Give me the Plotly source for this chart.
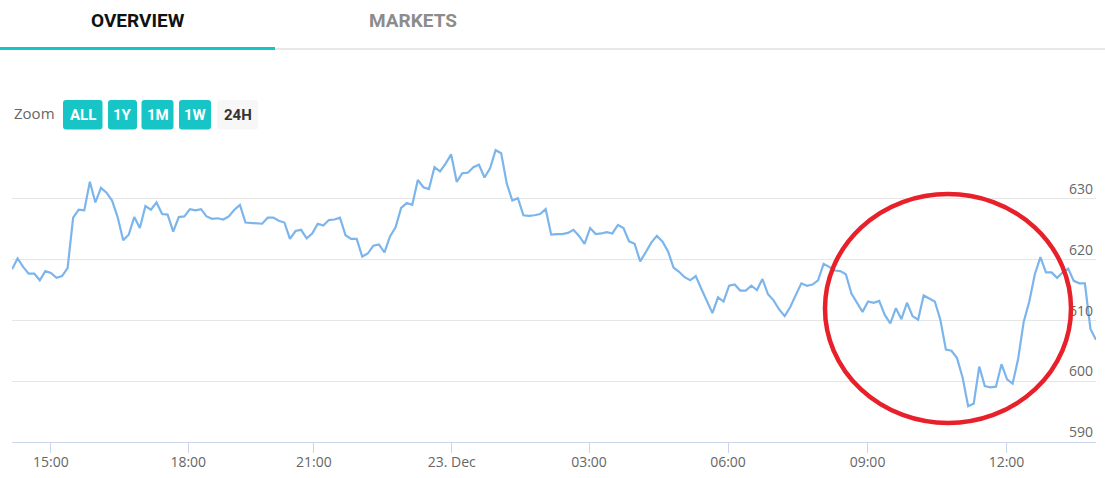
import plotly.graph_objects as go

# ---------------- data ----------------
prices_part1 = [
    618.4, 620.2, 618.8, 617.7, 617.7, 616.6, 618.1, 617.8, 617.0, 617.3,
    618.6, 626.9, 628.2, 628.1, 632.8, 629.4, 631.8, 631.0, 629.7, 627.0,
    623.2, 624.1, 627.0, 625.2, 628.8, 628.2, 629.4, 627.5, 627.4, 624.6,
    627.0, 627.1, 628.3, 628.1, 628.3, 627.1, 626.7, 626.8, 626.6, 627.1,
    628.2, 629.0, 626.1, 626.0, 626.0, 625.9, 626.9, 626.9, 626.4, 626.1,
    623.4, 624.7, 624.9, 623.5, 624.3, 625.9, 625.6, 626.5, 626.6, 626.9,
    624.0, 623.4, 623.4, 620.5, 621.0,
]
prices_part2 = [
    622.3, 622.5, 621.2, 623.8, 625.3, 628.5, 629.3, 629.0, 633.1, 631.9,
    631.6, 635.2, 634.5, 635.8, 637.3, 632.8, 634.2, 634.3, 635.2, 635.6,
    633.5, 635.0, 638.0, 637.5, 632.5, 629.7, 630.1, 627.3, 627.2, 627.3,
    627.5, 628.3, 624.1, 624.2, 624.2, 624.4, 624.9, 623.9, 622.6, 625.2,
    624.2, 624.3, 624.5, 624.3, 625.7, 625.2, 623.0, 622.6, 619.7, 621.2,
    622.8, 623.9, 623.0, 621.4, 618.7, 618.0, 617.1, 616.6, 617.3, 615.2,
    613.2, 611.2, 613.8, 613.1, 615.7, 615.9,
]
prices_part3 = [
    614.9, 614.9, 615.7, 615.0, 616.8, 614.3, 613.3, 611.8, 610.7, 612.2,
    614.2, 616.1, 615.7, 615.9, 616.6, 619.3, 618.8, 618.2, 618.1, 617.6,
    614.4, 612.8, 611.4, 613.1, 612.9, 613.2, 610.9, 609.5, 612.0, 610.2,
    612.9, 610.7, 610.1, 614.1, 613.6, 613.1, 610.1, 605.2, 605.0, 603.8,
    600.6, 595.9, 596.3, 602.4, 599.2, 599.0, 599.1, 602.8, 600.3, 599.6,
    603.7, 609.8, 613.1, 617.6, 620.4, 617.9, 617.9, 617.0, 617.9, 618.5,
    616.5, 616.1, 616.1, 608.6, 606.8,
]
prices = prices_part1 + prices_part2 + prices_part3
point_index = list(range(len(prices)))  # ordinal (Highstock-style) x axis

x_tick_index = [7.0, 31.7, 54.3, 79.1, 103.8, 128.8, 153.9, 178.9]
x_tick_labels = ["15:00", "18:00", "21:00", "23. Dec", "03:00", "06:00", "09:00", "12:00"]
y_tick_values = [590, 600, 610, 620, 630, 640]
y_tick_labels = ["590", "600", "610", "620", "630", ""]

tab_labels = ["OVERVIEW", "MARKETS"]
zoom_buttons = ["ALL", "1Y", "1M", "1W", "24H"]

# ---------------- layout helpers ----------------
W, H = 1105, 478
ML, MR, MT, MB = 12, 9, 138, 36
PW = W - ML - MR
PH = H - MT - MB


def px(x):
    return (x - ML) / PW


def py(y):
    return (H - MB - y) / PH


def rrect_path(x0, y0, x1, y1, r):
    a, b, c, d = px(x0), px(x1), py(y0), py(y1)  # c top, d bottom
    rx, ry = r / PW, r / PH
    return (f"M{a+rx},{c} L{b-rx},{c} Q{b},{c} {b},{c-ry} "
            f"L{b},{d+ry} Q{b},{d} {b-rx},{d} L{a+rx},{d} "
            f"Q{a},{d} {a},{d+ry} L{a},{c-ry} Q{a},{c} {a+rx},{c} Z")


TEAL = "#17c4c6"
LINE = "#7cb5ec"

fig = go.Figure()
fig.add_trace(go.Scatter(
    x=point_index, y=prices, mode="lines",
    line=dict(color=LINE, width=2.2), hoverinfo="skip", showlegend=False,
))

shapes = []
# tabs underline
shapes.append(dict(type="rect", xref="paper", yref="paper", x0=px(0), x1=px(275),
                   y0=py(50), y1=py(47), fillcolor=TEAL, line=dict(width=0)))
shapes.append(dict(type="rect", xref="paper", yref="paper", x0=px(275), x1=px(1105),
                   y0=py(50), y1=py(48), fillcolor="#e8e8e8", line=dict(width=0)))
# zoom buttons
btn_boxes = [(63, 102.5), (108, 137), (141.5, 173.5), (179, 211), (217, 258)]
annotations = []
for label, (bx0, bx1) in zip(zoom_buttons, btn_boxes):
    active = label == "24H"
    shapes.append(dict(type="path", xref="paper", yref="paper",
                       path=rrect_path(bx0, 100, bx1, 129.5, 3),
                       fillcolor="#f7f7f7" if active else TEAL, line=dict(width=0)))
    annotations.append(dict(xref="paper", yref="paper", x=px((bx0 + bx1) / 2), y=py(115),
                            text=f"<b>{label}</b>", showarrow=False,
                            xanchor="center", yanchor="middle",
                            font=dict(family="Roboto", size=15,
                                      color="#333333" if active else "#ffffff")))
annotations.append(dict(xref="paper", yref="paper", x=px(12), y=py(113), text="Zoom",
                        showarrow=False, xanchor="left", yanchor="middle",
                        font=dict(family="Open Sans", size=15, color="#666666")))
# tabs
for label, cx, col in zip(tab_labels, [137.5, 412.5], ["#111111", "#8c8c8c"]):
    annotations.append(dict(xref="paper", yref="paper", x=px(cx), y=py(20),
                            text=f"<b>{label}</b>", showarrow=False,
                            xanchor="center", yanchor="middle",
                            font=dict(family="Roboto", size=19, color=col)))
# red highlight circle
shapes.append(dict(type="circle", xref="paper", yref="paper", layer="above",
                   x0=px(825), x1=px(1071), y0=py(423), y1=py(194),
                   line=dict(color="#e8202a", width=4.5)))

fig.update_layout(
    width=W, height=H,
    margin=dict(l=ML, r=MR, t=MT, b=MB, pad=0, autoexpand=False),
    paper_bgcolor="white", plot_bgcolor="white",
    shapes=shapes, annotations=annotations,
    xaxis=dict(range=[0, len(prices) - 1], tickmode="array",
               tickvals=x_tick_index, ticktext=x_tick_labels,
               showgrid=False, zeroline=False, showline=True,
               linecolor="#ccd6eb", linewidth=1,
               ticks="outside", ticklen=10, tickcolor="#ccd6eb",
               ticklabelstandoff=-3, automargin=False,
               tickfont=dict(family="Open Sans", size=14, color="#666666"),
               fixedrange=True),
    yaxis=dict(range=[590, 640], side="right", tickmode="array",
               tickvals=y_tick_values, ticktext=y_tick_labels,
               ticklabelposition="inside top", automargin=False,
               showgrid=True, gridcolor="#e6e6e6", gridwidth=1,
               zeroline=False, showline=False, ticks="",
               tickfont=dict(family="Open Sans", size=14, color="#666666"),
               fixedrange=True),
    hovermode=False,
)

fig.write_html("out.html", config={"displayModeBar": False},
               post_script="document.body.style.margin='0';")
